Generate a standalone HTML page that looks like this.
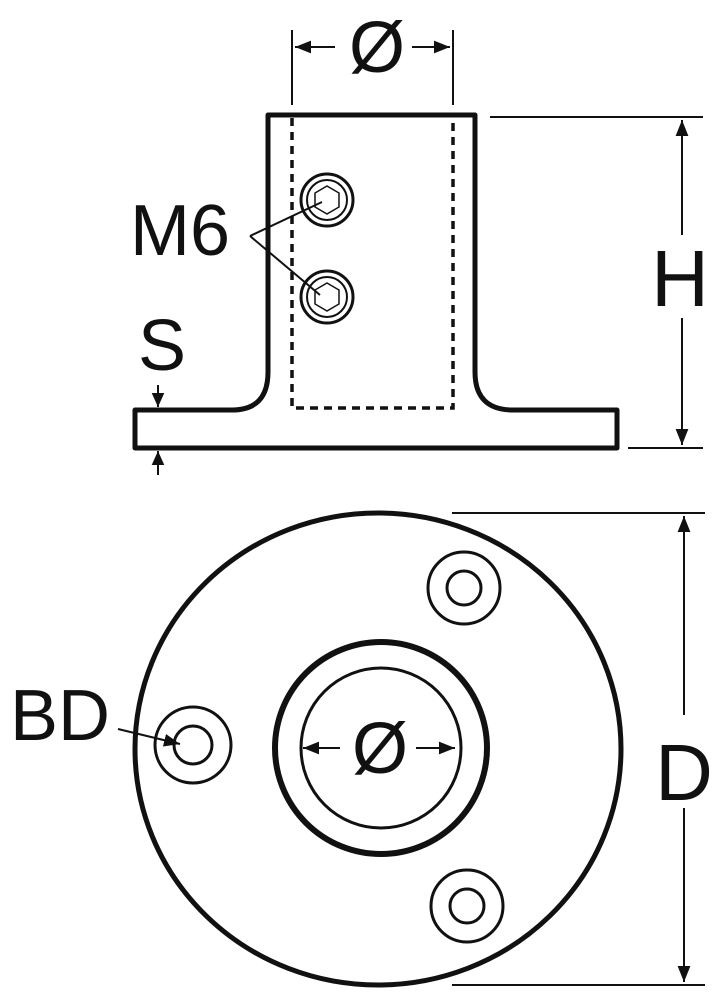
<!DOCTYPE html>
<html><head><meta charset="utf-8"><style>html,body{margin:0;padding:0;background:#fff}svg{display:block}text{font-family:"Liberation Sans",sans-serif;fill:#111}</style></head><body>
<svg width="714" height="1000" viewBox="0 0 714 1000" xmlns="http://www.w3.org/2000/svg">
<defs>
<marker id="a" viewBox="0 0 10 10" refX="10" refY="5" markerWidth="14" markerHeight="14" markerUnits="userSpaceOnUse" orient="auto"><path d="M0,0.5L10,5L0,9.5z" fill="#111"/></marker>
<marker id="b" viewBox="0 0 10 10" refX="10" refY="5" markerWidth="16" markerHeight="16" markerUnits="userSpaceOnUse" orient="auto"><path d="M0,1L10,5L0,9z" fill="#111"/></marker>
</defs>
<g fill="none" stroke="#111">
<path d="M268,115 H475 V372 Q475,410 513,410 H617 V448 H135 V410 H232 Q268,410 268,372 Z" stroke-width="5" stroke-linejoin="round"/>
<path d="M292,118 V408 H453 V118" stroke-width="3.5" stroke-dasharray="8,6"/>
<circle cx="327" cy="200" r="26" stroke-width="3"/><circle cx="327" cy="200" r="20" stroke-width="2"/>
<polygon points="327,186 339,193 339,207 327,214 315,207 315,193" stroke-width="1.5"/>
<circle cx="327" cy="297" r="26" stroke-width="3"/><circle cx="327" cy="297" r="20" stroke-width="2"/>
<polygon points="327,283 339,290 339,304 327,311 315,304 315,290" stroke-width="1.5"/>
<path d="M250,236 L322,202 M250,236 L320,295" stroke-width="2"/>
<path d="M292,30 V105 M453,30 V105" stroke-width="2"/>
<path d="M335,47 H295" stroke-width="2" marker-end="url(#b)"/>
<path d="M412,47 H450" stroke-width="2" marker-end="url(#b)"/>
<path d="M490,117 H703 M628,448 H703" stroke-width="2"/>
<path d="M682,235 V120" stroke-width="2" marker-end="url(#b)"/>
<path d="M682,318 V445" stroke-width="2" marker-end="url(#b)"/>
<path d="M158,385 V407" stroke-width="2" marker-end="url(#a)"/>
<path d="M158,475 V451" stroke-width="2" marker-end="url(#a)"/>
<ellipse cx="378" cy="749" rx="243" ry="236" stroke-width="5"/>
<circle cx="381" cy="748" r="106" stroke-width="6"/>
<circle cx="381" cy="748" r="80" stroke-width="3"/>
<circle cx="464" cy="588" r="36" stroke-width="3"/><circle cx="464" cy="588" r="17" stroke-width="3"/>
<circle cx="193" cy="745" r="38" stroke-width="3"/><circle cx="193" cy="745" r="19" stroke-width="3"/>
<circle cx="467" cy="906" r="36" stroke-width="3"/><circle cx="467" cy="906" r="17" stroke-width="3"/>
<path d="M118,729 L180,744" stroke-width="2" marker-end="url(#b)"/>
<path d="M340,748 H303" stroke-width="2" marker-end="url(#b)"/>
<path d="M416,748 H455" stroke-width="2" marker-end="url(#b)"/>
<path d="M452,513 H705 M452,985 H705" stroke-width="2"/>
<path d="M684,715 V516" stroke-width="2" marker-end="url(#b)"/>
<path d="M684,808 V982" stroke-width="2" marker-end="url(#b)"/>
</g>
<text x="377" y="72" font-size="72" text-anchor="middle">Ø</text>
<text x="180" y="255" font-size="72" text-anchor="middle">M6</text>
<text x="162" y="370" font-size="72" text-anchor="middle">S</text>
<text x="680" y="306" font-size="80" text-anchor="middle">H</text>
<text x="60" y="740" font-size="72" text-anchor="middle">BD</text>
<text x="380" y="773" font-size="72" text-anchor="middle">Ø</text>
<text x="684" y="800" font-size="80" text-anchor="middle">D</text>
</svg>
</body></html>
